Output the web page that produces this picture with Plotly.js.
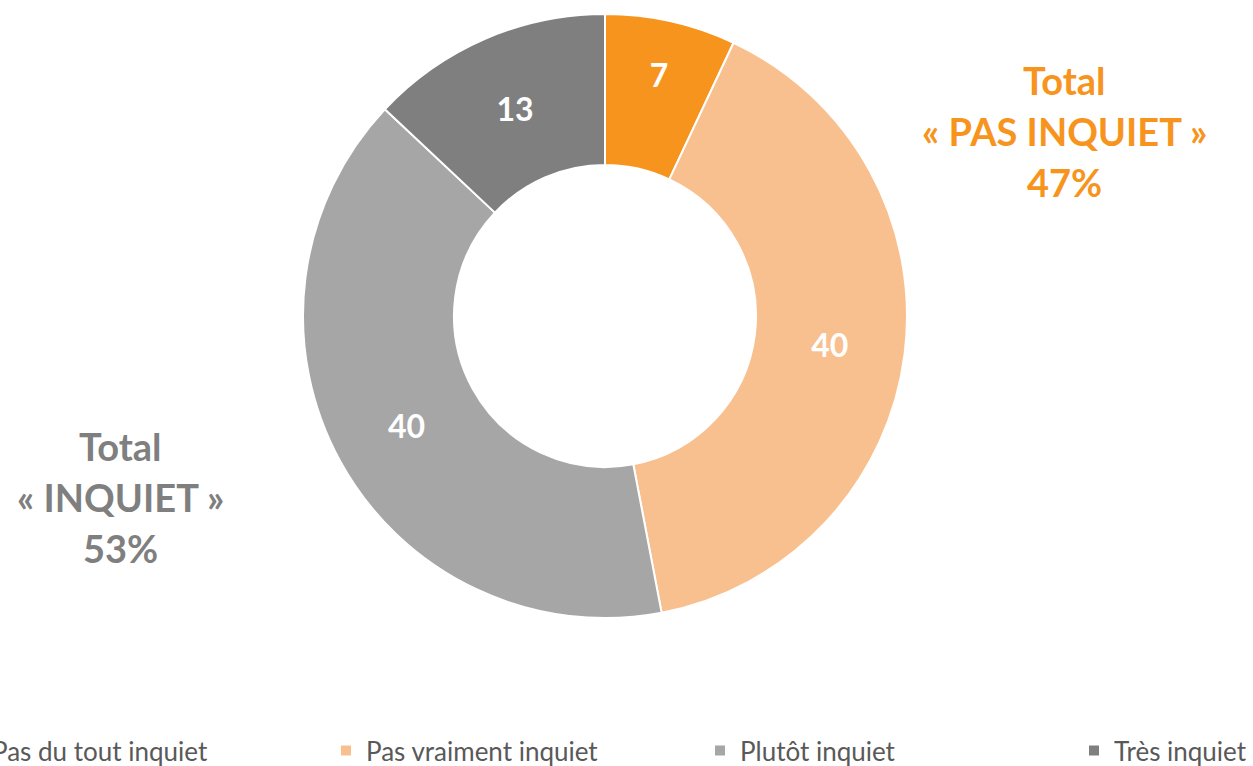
<!DOCTYPE html>
<html>
<head>
<meta charset="utf-8">
<script src="https://cdn.plot.ly/plotly-3.0.1.min.js"></script>
<style>
html,body{margin:0;padding:0;overflow:hidden;width:1253px;height:766px;background:#fff;}
#chart{position:absolute;left:-60px;top:0;width:1600px;height:766px;}
</style>
</head>
<body>
<div id="chart"></div>
<script>
const categories = ["Pas du tout inquiet", "Pas vraiment inquiet", "Plutôt inquiet", "Très inquiet"];
const values = [7, 40, 40, 13];
const sliceColors = ["#F7941D", "#F9C08F", "#A6A6A6", "#7F7F7F"];

const totalRightLines = ["Total", "« PAS INQUIET »", "47%"];
const totalLeftLines = ["Total", "« INQUIET »", "53%"];

const W = 1600, H = 766;
const trace = {
  type: "pie",
  labels: categories,
  values: values,
  sort: false,
  direction: "clockwise",
  rotation: 0,
  hole: 0.5,
  marker: {colors: sliceColors, line: {color: "#FFFFFF", width: 2}},
  textinfo: "value",
  textposition: "inside",
  insidetextorientation: "horizontal",
  textfont: {family: "Lato, sans-serif", size: 32, color: "#FFFFFF", weight: "bold"},
  domain: {x: [363 / W, 967 / W], y: [1 - 618 / H, 1 - 14 / H]},
  hoverinfo: "label+value"
};

const annotations = [];
function addLines(lines, cx, cy0, color) {
  lines.forEach((t, i) => {
    annotations.push({
      text: "<b>" + t + "</b>",
      xref: "paper", yref: "paper",
      x: cx / W, y: 1 - (cy0 + i * 51) / H,
      xanchor: "center", yanchor: "middle",
      showarrow: false,
      font: {family: "Lato, sans-serif", size: 38, color: color}
    });
  });
}
addLines(totalRightLines, 1124, 80, "#F7941D");
addLines(totalLeftLines, 180, 446, "#7F7F7F");

const layout = {
  width: W, height: H,
  margin: {l: 0, r: 0, t: 0, b: 0, autoexpand: false},
  paper_bgcolor: "#FFFFFF",
  showlegend: true,
  legend: {
    orientation: "h",
    x: 12 / W, xanchor: "left",
    y: -8 / H, yanchor: "bottom",
    entrywidth: 329, entrywidthmode: "pixels",
    font: {family: "Lato, sans-serif", size: 26, color: "#595959"},
    traceorder: "normal"
  },
  annotations: annotations
};

Plotly.newPlot("chart", [trace], layout, {displayModeBar: false, staticPlot: true});
</script>
</body>
</html>
